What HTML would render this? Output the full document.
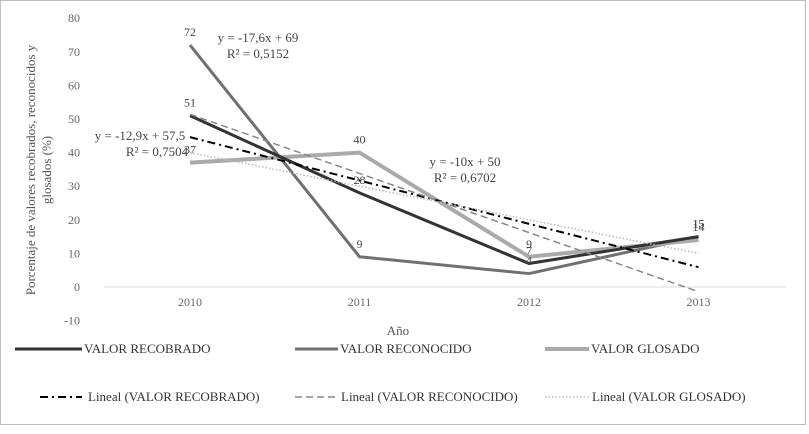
<!DOCTYPE html>
<html><head><meta charset="utf-8"><style>
body{margin:0;background:#fff}
svg text{font-family:"Liberation Serif",serif}
</style></head><body>
<svg id="chart" width="809" height="429" xmlns="http://www.w3.org/2000/svg">
<rect x="0.5" y="0.5" width="805" height="424" fill="#fff" stroke="#bbb"/>
<g id="grid"></g><g id="marks"></g><g id="labels"></g>
<text x="0" y="0" transform="translate(35,170) rotate(-90)" text-anchor="middle" font-size="13" fill="#555"><tspan x="0" dy="0">Porcentaje de valores recobrados, reconocidos y</tspan><tspan x="0" dy="16">glosados (%)</tspan></text>
<text x="398" y="335" text-anchor="middle" font-size="13" fill="#555">Año</text>
<g font-size="13" fill="#444">
<text x="108" y="42"><tspan x="258" text-anchor="middle">y = -17,6x + 69</tspan><tspan x="258" dy="16" text-anchor="middle">R² = 0,5152</tspan></text>
<text><tspan x="140" y="140" text-anchor="middle">y = -12,9x + 57,5</tspan><tspan x="157" y="156" text-anchor="middle">R² = 0,7504</tspan></text>
<text><tspan x="465" y="166" text-anchor="middle">y = -10x + 50</tspan><tspan x="465" y="182" text-anchor="middle">R² = 0,6702</tspan></text>
</g>
<g id="legend" font-size="13" fill="#333">
<g><line x1="15" y1="349" x2="82" y2="349" stroke="#333" stroke-width="3"/><text x="84" y="353">VALOR RECOBRADO</text></g>
<g><line x1="295" y1="349" x2="338" y2="349" stroke="#707070" stroke-width="3"/><text x="340" y="353">VALOR RECONOCIDO</text></g>
<g><line x1="545" y1="349" x2="589" y2="349" stroke="#aaa" stroke-width="4"/><text x="591" y="353">VALOR GLOSADO</text></g>
<g><line x1="40" y1="397" x2="82" y2="397" stroke="#000" stroke-width="2" stroke-dasharray="8,4,2,4"/><text x="88" y="401">Lineal (VALOR RECOBRADO)</text></g>
<g><line x1="295" y1="397" x2="338" y2="397" stroke="#888" stroke-width="1.5" stroke-dasharray="7,4"/><text x="341" y="401">Lineal (VALOR RECONOCIDO)</text></g>
<g><line x1="545" y1="397" x2="589" y2="397" stroke="#bbb" stroke-width="1.5" stroke-dasharray="1.5,2"/><text x="592" y="401">Lineal (VALOR GLOSADO)</text></g>
</g>
</svg>
<script>
const categories=["2010","2011","2012","2013"];
const recobrado=[51,28,7,15];
const reconocido=[72,9,4,15];
const glosado=[37,40,9,14];
const yTicks=[80,70,60,50,40,30,20,10,0,-10];
const NS="http://www.w3.org/2000/svg";
const x0=190,dx=169.5,yZero=287,k=3.36;
function xs(i){return x0+i*dx;}
function ys(v){return yZero-v*k;}
function mk(tag,attrs,parent){const e=document.createElementNS(NS,tag);for(const a in attrs)e.setAttribute(a,attrs[a]);document.getElementById(parent).appendChild(e);return e;}
const ax=mk('line',{x1:104,x2:786,y1:ys(0),y2:ys(0),stroke:'#d9d9d9','stroke-width':1},'grid');


yTicks.forEach(t=>{const e=mk('text',{x:80,y:ys(t)+4,'text-anchor':'end','font-size':12,fill:'#666'},'grid');e.textContent=t;

});
categories.forEach((c,i)=>{const e=mk('text',{x:xs(i),y:ys(0)+19,'text-anchor':'middle','font-size':12,fill:'#666'},'grid');e.textContent=c;

});
function trend(arr){const n=arr.length;let mx=(n+1)/2,my=arr.reduce((a,b)=>a+b,0)/n,num=0,den=0;arr.forEach((v,i)=>{num+=(i+1-mx)*(v-my);den+=(i+1-mx)**2;});const m=num/den;return [my+m*(1-mx),my+m*(n-mx)];}
function series(arr,name,color,w){
 const p=mk('polyline',{points:arr.map((v,i)=>xs(i)+','+ys(v)).join(' '),fill:'none',stroke:color,'stroke-width':w,'stroke-linejoin':'round'},'marks');
 
 
}
function tline(arr,name,color,w,dash){const t=trend(arr);
 const l=mk('line',{x1:xs(0),y1:ys(t[0]),x2:xs(arr.length-1),y2:ys(t[1]),stroke:color,'stroke-width':w,'stroke-dasharray':dash},'marks');
 
 }
series(reconocido,'reconocido','#707070',3);
series(glosado,'glosado','#aaa',4);
series(recobrado,'recobrado','#333',3);
tline(recobrado,'recobrado','#000',2,'8,4,2,4');
tline(reconocido,'reconocido','#888',1.5,'7,4');
tline(glosado,'glosado','#bbb',1.5,'1.5,2');
[recobrado,reconocido,glosado].forEach((arr,si)=>arr.forEach((v,i)=>{
 const e=mk('text',{x:xs(i),y:ys(v)-9,'text-anchor':'middle','font-size':12,fill:'#444'},'labels');e.textContent=v;
 
 }));
</script>
</body></html>
